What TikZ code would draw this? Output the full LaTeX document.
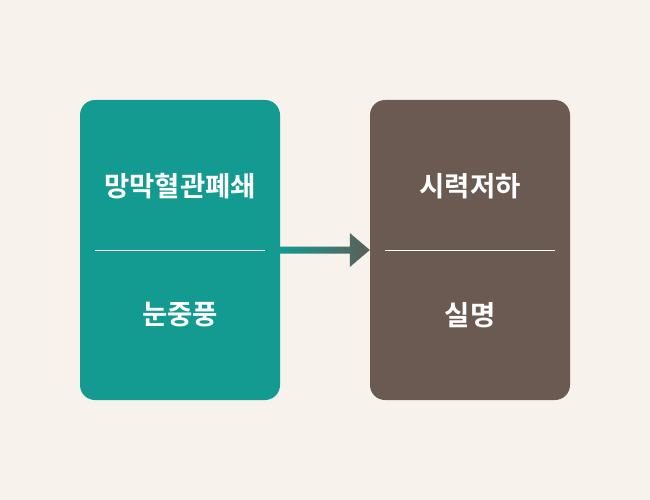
\documentclass[tikz,border=0pt]{standalone}
\usepackage{fontspec}
\newfontfamily\kr{Noto Sans CJK KR Bold}
\definecolor{bgc}{HTML}{F7F2EC}
\definecolor{tealc}{HTML}{139A91}
\definecolor{brownc}{HTML}{6B5A51}
\definecolor{arrc}{HTML}{5C5E57}
\tikzset{
  panel/.style={rounded corners=15pt, minimum width=200pt, minimum height=300pt, inner sep=0pt},
  label/.style={text=white, font=\kr\fontsize{27.5}{32}\selectfont, inner sep=0pt, anchor=center},
  divider/.style={white, line width=0.8pt}
}
\begin{document}
\begin{tikzpicture}[x=1pt,y=-1pt]
\fill[bgc] (0,0) rectangle (650,500);
\useasboundingbox (0,0) rectangle (650,500);
\node[panel, fill=tealc] (L) at (180,250) {};
\node[panel, fill=brownc] (R) at (470,250) {};
\node[label] (l1) at (180,186) {망막혈관폐쇄};
\node[label] (l2) at (180,315) {눈중풍};
\node[label] (r1) at (470,186) {시력저하};
\node[label] (r2) at (470,315) {실명};
\draw[divider] (95,250) -- (265,250);
\draw[divider] (385,250) -- (555,250);
\shade[left color=tealc, right color=arrc]
  ([yshift=3.5pt]L.east) -- ([xshift=-20pt,yshift=3.5pt]R.west) -- ([xshift=-20pt,yshift=17pt]R.west)
  -- (R.west) -- ([xshift=-20pt,yshift=-17pt]R.west) -- ([xshift=-20pt,yshift=-3.5pt]R.west)
  -- ([yshift=-3.5pt]L.east) -- cycle;
\end{tikzpicture}
\end{document}
